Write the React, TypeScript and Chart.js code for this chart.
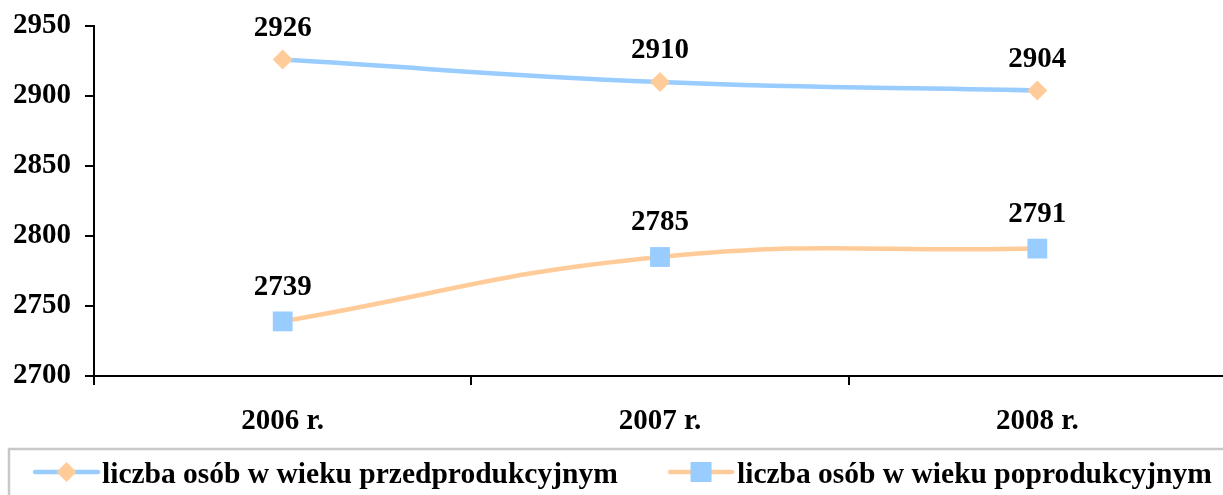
import React, { useEffect, useRef } from "react";
import { Chart, registerables } from "chart.js";

Chart.register(...registerables);

// ---- data ----
const categories = ["2006 r.", "2007 r.", "2008 r."];
const seriesNames = [
  "liczba osób w wieku przedprodukcyjnym",
  "liczba osób w wieku poprodukcyjnym",
];
const preProductive = [2926, 2910, 2904];
const postProductive = [2739, 2785, 2791];
const yTicks = [2700, 2750, 2800, 2850, 2900, 2950];

// ---- styles ----
const FONT = "'Liberation Serif', 'Times New Roman', serif";
const BLUE = "#99CCFF";
const PEACH = "#FFCC99";
const CANVAS_W = 1240;
const CANVAS_H = 495;

const dataLabelsPlugin = {
  id: "dataLabels",
  afterDatasetsDraw(chart: any) {
    const ctx = chart.ctx;
    const offsets = [31, 34];
    ctx.save();
    ctx.font = `bold 29px ${FONT}`;
    ctx.fillStyle = "#000";
    ctx.textAlign = "center";
    ctx.textBaseline = "middle";
    chart.data.datasets.forEach((ds: any, di: number) => {
      const meta = chart.getDatasetMeta(di);
      meta.data.forEach((pt: any, i: number) => {
        ctx.fillText(String(ds.data[i]), pt.x, pt.y - offsets[di]);
      });
    });
    ctx.restore();
  },
};

const legendBoxPlugin = {
  id: "legendBox",
  afterDraw(chart: any) {
    const ctx = chart.ctx;
    ctx.save();
    // frame
    ctx.strokeStyle = "#C8C8C8";
    ctx.lineWidth = 2.5;
    ctx.strokeRect(9, 449, CANVAS_W + 20, 100);

    const lineY = 472;
    const textY = 483;
    const items = [
      { x0: 35, x1: 98, line: BLUE, marker: PEACH, shape: "diamond", tx: 102 },
      { x0: 670, x1: 732, line: PEACH, marker: BLUE, shape: "square", tx: 737 },
    ];
    items.forEach((it, i) => {
      ctx.strokeStyle = it.line;
      ctx.lineWidth = 4.5;
      ctx.lineCap = "round";
      ctx.beginPath();
      ctx.moveTo(it.x0, lineY);
      ctx.lineTo(it.x1, lineY);
      ctx.stroke();
      const cx = (it.x0 + it.x1) / 2;
      ctx.fillStyle = it.marker;
      if (it.shape === "diamond") {
        ctx.beginPath();
        ctx.moveTo(cx, lineY - 10);
        ctx.lineTo(cx + 10, lineY);
        ctx.lineTo(cx, lineY + 10);
        ctx.lineTo(cx - 10, lineY);
        ctx.closePath();
        ctx.fill();
      } else {
        ctx.fillRect(cx - 10.5, lineY - 10, 21, 20);
      }
      ctx.fillStyle = "#000";
      ctx.font = `bold 29.5px ${FONT}`;
      ctx.textAlign = "left";
      ctx.textBaseline = "alphabetic";
      ctx.fillText(chart.data.datasets[i].label, it.tx, textY);
    });
    ctx.restore();
  },
};

export default function App() {
  const canvasRef = useRef<HTMLCanvasElement | null>(null);

  useEffect(() => {
    const canvas = canvasRef.current;
    if (!canvas) return;
    const tickFont = { family: FONT, size: 29, weight: "bold" as const };
    const chart = new Chart(canvas, {
      type: "line",
      data: {
        labels: categories,
        datasets: [
          {
            label: seriesNames[0],
            data: preProductive,
            borderColor: BLUE,
            borderWidth: 4.5,
            backgroundColor: PEACH,
            pointBackgroundColor: PEACH,
            pointBorderColor: PEACH,
            pointBorderWidth: 0,
            pointStyle: "rectRot",
            pointRadius: 10,
            tension: 0.45,
            fill: false,
          },
          {
            label: seriesNames[1],
            data: postProductive,
            borderColor: PEACH,
            borderWidth: 4.5,
            backgroundColor: BLUE,
            pointBackgroundColor: BLUE,
            pointBorderColor: BLUE,
            pointBorderWidth: 0,
            pointStyle: "rect",
            pointRadius: 14,
            tension: 0.45,
            fill: false,
          },
        ],
      },
      options: {
        animation: false,
        responsive: false,
        devicePixelRatio: 1,
        layout: { padding: { top: 26, right: 6, left: 0, bottom: 0 } },
        plugins: {
          legend: { display: false },
          tooltip: { enabled: false },
        },
        scales: {
          x: {
            offset: true,
            grid: {
              offset: true,
              drawOnChartArea: false,
              drawTicks: true,
              tickLength: 9,
              color: "#000",
              lineWidth: 2,
            },
            border: { display: true, color: "#000", width: 2 },
            ticks: { font: tickFont, color: "#000", padding: 19, maxRotation: 0 },
            afterFit: (s: any) => {
              s.height = 119;
            },
          },
          y: {
            min: yTicks[0],
            max: yTicks[yTicks.length - 1],
            afterBuildTicks: (scale: any) => {
              scale.ticks = yTicks.map((v) => ({ value: v }));
            },
            grid: {
              drawOnChartArea: false,
              drawTicks: true,
              tickLength: 9,
              color: "#000",
              lineWidth: 2,
            },
            border: { display: true, color: "#000", width: 2 },
            ticks: {
              font: tickFont,
              color: "#000",
              padding: 14,
              callback: (v: any) => String(v),
            },
            afterFit: (s: any) => {
              s.width = 94;
              s.paddingTop = 0;
              s.paddingBottom = 0;
            },
          },
        },
      },
      plugins: [dataLabelsPlugin, legendBoxPlugin],
    });
    return () => chart.destroy();
  }, []);

  return (
    <div
      style={{
        position: "absolute",
        left: 0,
        top: 0,
        width: 1223,
        height: 495,
        overflow: "hidden",
        background: "#fff",
      }}
    >
      <canvas
        ref={canvasRef}
        width={CANVAS_W}
        height={CANVAS_H}
        style={{ width: CANVAS_W, height: CANVAS_H, display: "block" }}
      />
    </div>
  );
}
